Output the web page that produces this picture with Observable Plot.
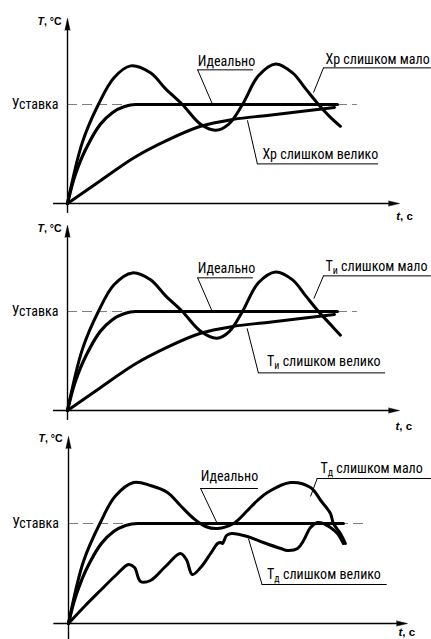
<!DOCTYPE html>
<html>
<head>
<meta charset="utf-8">
<script src="https://cdn.jsdelivr.net/npm/d3@7"></script>
<script src="https://cdn.jsdelivr.net/npm/@observablehq/plot@0.6"></script>
<style>
html, body { margin: 0; padding: 0; background: #fff; }
#chart { position: relative; width: 431px; height: 639px; overflow: hidden; background: #fff; }
#chart svg { position: absolute; left: 0; }
</style>
</head>
<body>
<div id="chart"></div>
<script>
// ---------- DATA (t = time units, v = temperature relative to setpoint = 1) ----------
const setpointLabel = "Уставка";
const yAxisLabel = "T, °C";
const xAxisLabel = "t, c";

// Panel 1: Хр (proportional band)
const p1IdealT = [0, 0.15, 0.39, 0.69, 0.99, 1.36, 1.72, 2.05, 8.13];
const p1IdealV = [0, 0.20, 0.43, 0.64, 0.80, 0.92, 0.98, 1.0, 1.0];
const p1SmallT = [0, 0.45, 0.93, 1.40, 1.90, 2.50, 2.95, 3.46, 4.01, 4.46, 4.85, 5.27, 5.75, 6.27, 6.78, 7.17, 7.56, 7.92, 8.22];
const p1SmallV = [0, 0.62, 1.0, 1.27, 1.39, 1.32, 1.16, 1.0, 0.80, 0.74, 0.80, 1.0, 1.29, 1.41, 1.32, 1.16, 1.0, 0.87, 0.78];
const p1LargeT = [0, 0.99, 1.99, 3.01, 4.01, 5.0, 6.02, 7.02, 8.04];
const p1LargeV = [0, 0.23, 0.46, 0.64, 0.78, 0.85, 0.89, 0.93, 0.97];
const p1Labels = ["Идеально", "Хр слишком мало", "Хр слишком велико"];

// Panel 2: Ти (integral time)
const p2IdealT = [0, 0.15, 0.39, 0.69, 0.99, 1.36, 1.72, 2.05, 8.13];
const p2IdealV = [0, 0.20, 0.43, 0.64, 0.80, 0.92, 0.98, 1.0, 1.0];
const p2SmallT = [0, 0.45, 0.93, 1.40, 1.95, 2.50, 2.95, 3.46, 4.01, 4.50, 4.88, 5.27, 5.75, 6.27, 6.78, 7.17, 7.56, 7.92, 8.22];
const p2SmallV = [0, 0.62, 1.0, 1.27, 1.39, 1.32, 1.16, 1.0, 0.80, 0.73, 0.80, 1.0, 1.29, 1.40, 1.32, 1.16, 1.0, 0.87, 0.76];
const p2LargeT = [0, 0.99, 1.99, 3.01, 4.01, 5.0, 6.02, 7.02, 8.04];
const p2LargeV = [0, 0.23, 0.46, 0.64, 0.78, 0.85, 0.89, 0.93, 0.97];
const p2Labels = ["Идеально", "Ти слишком мало", "Ти слишком велико"];

// Panel 3: Тд (derivative time)
const p3IdealT = [0, 0.15, 0.39, 0.69, 0.99, 1.36, 1.72, 2.08, 8.28];
const p3IdealV = [0, 0.20, 0.43, 0.64, 0.80, 0.92, 0.98, 1.0, 1.0];
const p3SmallT = [0, 0.45, 0.96, 1.40, 1.96, 2.47, 2.98, 3.37, 3.77, 4.13, 4.49, 4.97, 5.39, 5.69, 5.99, 6.69, 7.29, 7.62, 7.89, 7.98, 8.19, 8.34];
const p3SmallV = [0, 0.62, 1.01, 1.27, 1.41, 1.38, 1.31, 1.18, 1.05, 0.97, 0.95, 1.0, 1.13, 1.23, 1.31, 1.41, 1.36, 1.22, 1.10, 1.0, 0.90, 0.80];
const p3LargeT = [0, 0.48, 0.96, 1.45, 1.81, 1.99, 2.17, 2.47, 2.92, 3.37, 3.55, 3.73, 3.98, 4.28, 4.49, 4.58, 4.64, 4.70, 4.76, 4.91, 5.39, 5.87, 6.39, 6.60, 6.90, 7.08, 7.29, 7.50, 7.68, 7.89, 8.10, 8.28];
const p3LargeV = [0, 0.17, 0.33, 0.49, 0.59, 0.56, 0.42, 0.43, 0.57, 0.70, 0.64, 0.49, 0.56, 0.70, 0.80, 0.81, 0.80, 0.84, 0.88, 0.90, 0.87, 0.81, 0.75, 0.73, 0.75, 0.83, 0.96, 1.01, 1.0, 0.96, 0.90, 0.80];
const p3Labels = ["Идеально", "Тд слишком мало", "Тд слишком велико"];

// Annotation anchors (data units): text position, underline, leader end
const p1Ann = {textT: [3.92, 7.77, 5.87], textV: [1.43, 1.45, 0.49], lineV: [1.35, 1.37, 0.40], lineT1: [3.92, 7.71, 5.72], lineT2: [5.60, 10.96, 9.37], tipT: [4.37, 7.41, 5.42], tipV: [1.0, 1.12, 0.84]};
const p2Ann = {textT: [3.92, 7.77, 6.01], textV: [1.43, 1.45, 0.49], lineV: [1.34, 1.36, 0.38], lineT1: [3.92, 7.71, 5.75], lineT2: [5.60, 10.96, 9.58], tipT: [4.36, 7.42, 5.41], tipV: [1.0, 1.13, 0.83]};
const p3Ann = {textT: [3.98, 7.59, 5.98], textV: [1.47, 1.55, 0.49], lineV: [1.35, 1.45, 0.39], lineT1: [3.98, 7.49, 5.83], lineT2: [5.72, 10.93, 9.60], tipT: [4.48, 7.29, 5.42], tipV: [1.0, 1.27, 0.85]};

// ---------- DRAWING ----------
const FONT = "'Liberation Sans Narrow', 'Roboto Condensed', 'DejaVu Sans Condensed', 'Liberation Sans', sans-serif";
const SVGNS = "http://www.w3.org/2000/svg";

function rows(t, v) { return t.map((d, i) => ({t: d, v: v[i]})); }

function panel(cfg) {
  const a = cfg.ann;
  const ann = cfg.labels.map((text, i) => ({
    text, tx: a.textT[i], tv: a.textV[i], u: a.lineV[i], u1: a.lineT1[i], u2: a.lineT2[i], lt: a.tipT[i], lv: a.tipV[i]
  }));
  const svg = Plot.plot({
    width: 431,
    height: cfg.height,
    style: {background: "none", overflow: "visible", fontFamily: FONT, color: "#000"},
    x: {domain: [0, 10], range: cfg.xRange, axis: null},
    y: {domain: [0, 1], range: cfg.yRange, axis: null},
    marks: [
      Plot.ruleY([1], {x1: 0, x2: cfg.dashEnd, stroke: "#7d7d7d", strokeWidth: 1.1, strokeDasharray: "10,5"}),
      Plot.ruleY([0], {x1: cfg.xStart, x2: cfg.xEnd - 0.2, stroke: "#000", strokeWidth: 1.4}),
      Plot.ruleX([0], {y1: cfg.yStart, y2: cfg.yEnd - 0.08, stroke: "#000", strokeWidth: 1.4}),
      Plot.vector([0], {x: cfg.xEnd, y: 0, shape: "spike", length: 11, r: 2.6, rotate: 90, anchor: "end", fill: "#000", stroke: "#000", strokeWidth: 0.5}),
      Plot.vector([0], {x: 0, y: cfg.yEnd, shape: "spike", length: 12, r: 2.6, rotate: 0, anchor: "end", fill: "#000", stroke: "#000", strokeWidth: 0.5}),
      Plot.line(rows(cfg.idealT, cfg.idealV), {x: "t", y: "v", curve: "monotone-x", stroke: "#000", strokeWidth: 3.2}),
      Plot.line(rows(cfg.largeT, cfg.largeV), {x: "t", y: "v", curve: cfg.largeCurve, stroke: "#000", strokeWidth: 3}),
      Plot.line(rows(cfg.smallT, cfg.smallV), {x: "t", y: "v", curve: "catmull-rom", stroke: "#000", strokeWidth: 3}),
      Plot.ruleY(ann, {y: "u", x1: "u1", x2: "u2", stroke: "#000", strokeWidth: 1}),
      Plot.link(ann, {x1: "u1", y1: "u", x2: "lt", y2: "lv", stroke: "#000", strokeWidth: 1}),
      Plot.text(ann, {x: "tx", y: "tv", text: "text", textAnchor: "start", fontSize: 14, fill: "#000"}),
      Plot.text([setpointLabel], {x: cfg.setLabelT, y: 1, text: d => d, textAnchor: "end", fontSize: 14, fill: "#000"}),
      Plot.text([yAxisLabel], {x: cfg.yLabelT, y: cfg.yLabelV, text: d => d, textAnchor: "end", fontSize: 10.5, fontWeight: "bold", fill: "#000", fontFamily: "'Liberation Sans', Arial, sans-serif"}),
      Plot.text([xAxisLabel], {x: cfg.xLabelT, y: cfg.xLabelV, text: d => d, textAnchor: "start", fontSize: 11.5, fontWeight: "bold", fill: "#000", fontFamily: "'Liberation Sans', Arial, sans-serif"})
    ]
  });
  // subscripts and italic symbols as real text via tspans
  svg.querySelectorAll("text").forEach(el => {
    const s = el.textContent;
    let m = s.match(/^Т([ид])(.*)$/);
    if (m) {
      el.textContent = "";
      const t1 = document.createElementNS(SVGNS, "tspan"); t1.textContent = "Т";
      const t2 = document.createElementNS(SVGNS, "tspan"); t2.textContent = m[1]; t2.setAttribute("font-size", "10"); t2.setAttribute("dy", "3");
      const t3 = document.createElementNS(SVGNS, "tspan"); t3.textContent = m[2]; t3.setAttribute("dy", "-3");
      el.append(t1, t2, t3);
      return;
    }
    m = s.match(/^([Tt])(,.*)$/);
    if (m) {
      el.textContent = "";
      const t1 = document.createElementNS(SVGNS, "tspan"); t1.textContent = m[1]; t1.setAttribute("font-style", "italic");
      const t2 = document.createElementNS(SVGNS, "tspan"); t2.textContent = m[2];
      el.append(t1, t2);
    }
  });
  svg.style.top = cfg.top + "px";
  return svg;
}

const chart = document.getElementById("chart");
const common = {height: 220, yRange: [203, 104], xStart: -0.42, yStart: -0.10, setLabelT: -0.27, yLabelT: -0.18};

chart.append(panel({...common, top: 0, xRange: [67, 399], xEnd: 10.0, yEnd: 1.87, dashEnd: 8.73,
  yLabelV: 1.84, xLabelT: 9.9, xLabelV: -0.13,
  idealT: p1IdealT, idealV: p1IdealV, smallT: p1SmallT, smallV: p1SmallV, largeT: p1LargeT, largeV: p1LargeV, largeCurve: "monotone-x",
  labels: p1Labels, ann: p1Ann}));

chart.append(panel({...common, top: 207, xRange: [67, 399], xEnd: 10.0, yEnd: 1.87, dashEnd: 8.73,
  yLabelV: 1.84, xLabelT: 9.88, xLabelV: -0.16,
  idealT: p2IdealT, idealV: p2IdealV, smallT: p2SmallT, smallV: p2SmallV, largeT: p2LargeT, largeV: p2LargeV, largeCurve: "monotone-x",
  labels: p2Labels, ann: p2Ann}));

chart.append(panel({...common, top: 420, yRange: [203, 103], xRange: [68, 400], xStart: -0.44, yStart: -0.25, setLabelT: -0.29,
  xEnd: 10.21, yEnd: 1.87, dashEnd: 8.89,
  yLabelV: 1.85, xLabelT: 9.94, xLabelV: -0.09,
  idealT: p3IdealT, idealV: p3IdealV, smallT: p3SmallT, smallV: p3SmallV, largeT: p3LargeT, largeV: p3LargeV, largeCurve: "catmull-rom",
  labels: p3Labels, ann: p3Ann}));
</script>
</body>
</html>
